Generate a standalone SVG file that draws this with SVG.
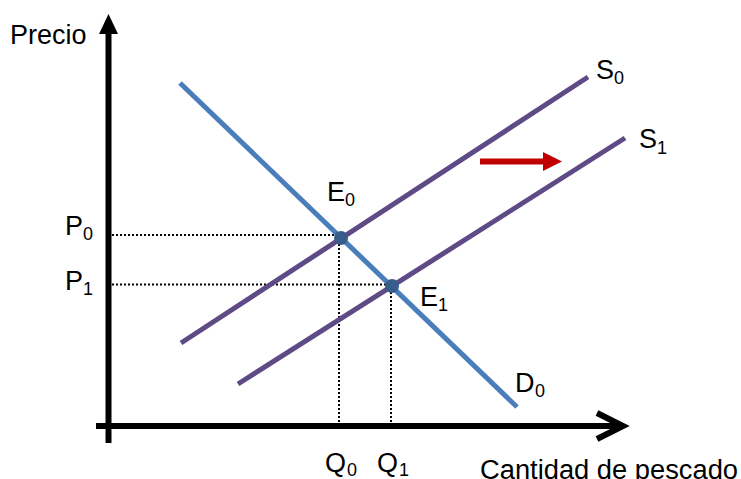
<svg xmlns="http://www.w3.org/2000/svg" width="741" height="479" viewBox="0 0 741 479">
<style>
.lbl{font-family:"Liberation Sans",Arial,sans-serif;font-size:27px;fill:#000}
.sub{font-family:"Liberation Sans",Arial,sans-serif;font-size:18px;fill:#000}
.dot{stroke:#000;stroke-width:2;stroke-dasharray:2 2;fill:none}
.sup{stroke:#5E4A85;stroke-width:5;fill:none}
.dem{stroke:#4A7EBB;stroke-width:5;fill:none}
.pt{fill:#385D8A}
</style>
<rect width="741" height="479" fill="#fff"/>
<g id="guides">
<line class="dot" x1="112" y1="235" x2="338" y2="235"/>
<line class="dot" x1="112" y1="284.5" x2="390" y2="284.5"/>
<line class="dot" x1="339" y1="240" x2="339" y2="423"/>
<line class="dot" x1="391" y1="288" x2="391" y2="423"/>
</g>
<g id="axes">
<line x1="108.5" y1="443" x2="108.5" y2="32" stroke="#000" stroke-width="6"/>
<polygon points="99,34 108.5,14 118,34" fill="#000"/>
<line x1="96" y1="426" x2="621" y2="426" stroke="#000" stroke-width="6"/>
<polyline points="597,413 623,426 597,439" fill="none" stroke="#000" stroke-width="6"/>
<text class="lbl" x="10" y="44">Precio</text>
<text class="lbl" x="480" y="479" textLength="258" lengthAdjust="spacingAndGlyphs">Cantidad de pescado</text>
</g>
<g id="connectors">
<line id="D0" class="dem" x1="180" y1="83" x2="517" y2="407"/>
<line id="S0" class="sup" x1="181" y1="343" x2="588" y2="77"/>
<line id="S1" class="sup" x1="238" y1="384" x2="625" y2="138"/>
<line x1="480" y1="161.5" x2="546" y2="161.5" stroke="#C00000" stroke-width="6"/>
<polygon points="543,152 562,161.5 543,171" fill="#C00000"/>
</g>
<g id="E0"><circle class="pt" cx="341" cy="238" r="7"/><text class="lbl" x="327" y="201">E</text><text class="sub" x="345" y="206">0</text></g>
<g id="E1"><circle class="pt" cx="392" cy="286" r="7"/><text class="lbl" x="420" y="306">E</text><text class="sub" x="438" y="311">1</text></g>
<g id="P0"><text class="lbl" x="65" y="235">P</text><text class="sub" x="83" y="240">0</text></g>
<g id="P1"><text class="lbl" x="65" y="290">P</text><text class="sub" x="83" y="295">1</text></g>
<g id="Q0"><text class="lbl" x="325" y="472">Q</text><text class="sub" x="347" y="476">0</text></g>
<g id="Q1"><text class="lbl" x="377" y="472">Q</text><text class="sub" x="399" y="476">1</text></g>
<g id="S0l"><text class="lbl" x="596" y="79">S</text><text class="sub" x="614" y="84">0</text></g>
<g id="S1l"><text class="lbl" x="639" y="148">S</text><text class="sub" x="657" y="154">1</text></g>
<g id="D0l"><text class="lbl" x="515" y="392">D</text><text class="sub" x="535" y="397">0</text></g>
</svg>
